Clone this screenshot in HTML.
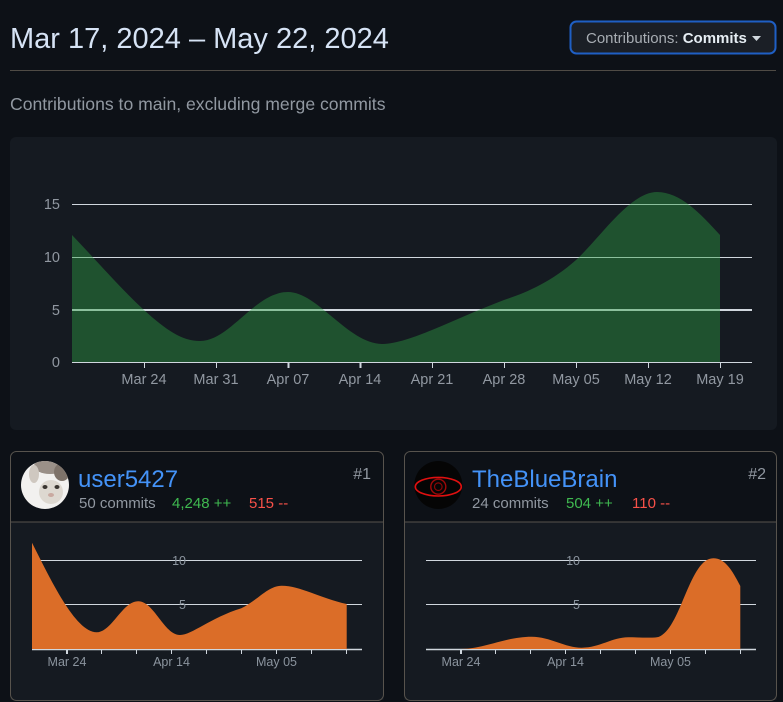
<!DOCTYPE html>
<html><head><meta charset="utf-8"><style>
html,body{margin:0;padding:0;background:#0d1117;}
body{width:783px;height:702px;overflow:hidden;}
svg{display:block;font-family:"Liberation Sans",sans-serif;}
</style></head><body>
<svg width="783" height="702" viewBox="0 0 783 702" xmlns="http://www.w3.org/2000/svg">
<rect x="0" y="0" width="783" height="702" fill="#0d1117"/>
<!-- header -->
<text x="10" y="48" font-size="29" fill="#d6e3f5">Mar 17, 2024 – May 22, 2024</text>
<rect x="570.5" y="21.5" width="205" height="32" rx="6" fill="#1b1f26" stroke="#1f5fc4" stroke-width="2"/>
<text x="586" y="43" font-size="15"><tspan fill="#a8adb3">Contributions: </tspan><tspan fill="#e6edf3" font-weight="bold">Commits</tspan></text>
<polygon points="752,36 761,36 756.5,41" fill="#d0d7de"/>
<line x1="10" y1="70.5" x2="776" y2="70.5" stroke="#4f4b45" stroke-width="1"/>
<text x="10" y="110" font-size="17.6" fill="#9198a1">Contributions to main, excluding merge commits</text>

<!-- main panel -->
<rect x="10" y="137" width="767" height="293" rx="6" fill="#151a21"/>
<g stroke="#d0d7de">
<line x1="72" y1="204.5" x2="752" y2="204.5" stroke-width="1"/>
<line x1="72" y1="257.5" x2="752" y2="257.5" stroke-width="1"/>
<line x1="72" y1="310" x2="752" y2="310" stroke-width="2"/>
<line x1="72" y1="362.5" x2="752" y2="362.5" stroke-width="1"/>
<line x1="144.5" y1="362" x2="144.5" y2="368"/>
<line x1="216.5" y1="362" x2="216.5" y2="368"/>
<line x1="288.5" y1="362" x2="288.5" y2="368" stroke-width="2"/>
<line x1="360.5" y1="362" x2="360.5" y2="368" stroke-width="2"/>
<line x1="432.5" y1="362" x2="432.5" y2="368"/>
<line x1="504.5" y1="362" x2="504.5" y2="368"/>
<line x1="576.5" y1="362" x2="576.5" y2="368"/>
<line x1="648.5" y1="362" x2="648.5" y2="368"/>
<line x1="720.5" y1="362" x2="720.5" y2="368"/>
</g>
<path d="M72,362 L72,235 C96,260 122,290 144,310 C166,330 182,341 200,341 C230,341 255,292 288,292 C318,292 348,344 383,344 C395,344 415,337 432,330 C456,320 480,309 504,300 C525,293 550,283 576,260 C600,238 630,192 657,192 C680,192 700,213 720,235 L720,362 Z" fill="#2ea043" fill-opacity="0.42"/>
<g font-size="14.5" fill="#9198a1" text-anchor="end">
<text x="60" y="209">15</text>
<text x="60" y="262">10</text>
<text x="60" y="315">5</text>
<text x="60" y="367">0</text>
</g>
<g font-size="14.5" fill="#9198a1" text-anchor="middle">
<text x="144" y="384">Mar 24</text>
<text x="216" y="384">Mar 31</text>
<text x="288" y="384">Apr 07</text>
<text x="360" y="384">Apr 14</text>
<text x="432" y="384">Apr 21</text>
<text x="504" y="384">Apr 28</text>
<text x="576" y="384">May 05</text>
<text x="648" y="384">May 12</text>
<text x="720" y="384">May 19</text>
</g>

<!-- card 1 -->
<rect x="10.5" y="522" width="373" height="178" fill="#151a21"/>
<rect x="10.5" y="451.5" width="373" height="249" rx="6" fill="none" stroke="#57534d"/>
<line x1="10.5" y1="522" x2="383.5" y2="522" stroke="#57534d"/>
<defs><clipPath id="av1"><circle cx="45" cy="485" r="24"/></clipPath></defs>
<g clip-path="url(#av1)">
<rect x="20" y="460" width="50" height="50" fill="#f2f1ef"/>
<ellipse cx="50" cy="466" rx="16" ry="8" fill="#9a9088"/>
<ellipse cx="62" cy="472" rx="8" ry="9" fill="#7e736a"/>
<ellipse cx="34" cy="474" rx="5" ry="9" fill="#cfc8c0"/>
<ellipse cx="51" cy="492" rx="12" ry="12" fill="#ddd8d0"/>
<ellipse cx="45" cy="487" rx="2.5" ry="2" fill="#3a3530"/>
<ellipse cx="57" cy="487" rx="2.5" ry="2" fill="#3a3530"/>
<ellipse cx="51" cy="495" rx="3" ry="2" fill="#c9a9a0"/>
</g>
<text x="78" y="487" font-size="24" fill="#4493f8">user5427</text>
<text x="79" y="508" font-size="15" fill="#9198a1">50 commits</text>
<text x="172" y="508" font-size="15" fill="#3fb950">4,248 ++</text>
<text x="249" y="508" font-size="15" fill="#f85149">515 --</text>
<text x="371" y="479" font-size="16" fill="#9198a1" text-anchor="end">#1</text>
<g stroke="#d0d7de">
<line x1="32" y1="560.5" x2="362" y2="560.5"/>
<line x1="32" y1="604.5" x2="362" y2="604.5"/>
<line x1="32" y1="649.5" x2="362" y2="649.5" stroke-width="1.5"/>
<line x1="67" y1="649" x2="67" y2="654" stroke-width="2"/>
<line x1="101.5" y1="649" x2="101.5" y2="654"/>
<line x1="136.5" y1="649" x2="136.5" y2="654"/>
<line x1="171.5" y1="649" x2="171.5" y2="654"/>
<line x1="206.5" y1="649" x2="206.5" y2="654"/>
<line x1="241.5" y1="649" x2="241.5" y2="654"/>
<line x1="276.5" y1="649" x2="276.5" y2="654"/>
<line x1="311.5" y1="649" x2="311.5" y2="654"/>
<line x1="346.5" y1="649" x2="346.5" y2="654"/>
</g>
<path d="M32,649 L32,542.7 C50,578 75,632 96.7,632.3 C112,632 122,601.3 138.3,601.3 C154,601.3 164,635 180,635 C192,635 210,618 241.3,608.3 C258,600 268,585.7 281.7,585.7 C300,585.7 320,598 346.7,604 L346.7,649 Z" fill="#db6d28"/>
<g font-size="12.5" fill="#8b949e" text-anchor="end">
<text x="186" y="565">10</text>
<text x="186" y="609">5</text>
</g>
<g font-size="12.5" fill="#8b949e" text-anchor="middle">
<text x="67" y="666">Mar 24</text>
<text x="171.5" y="666">Apr 14</text>
<text x="276.5" y="666">May 05</text>
</g>

<!-- card 2 -->
<rect x="404.5" y="522" width="372" height="178" fill="#151a21"/>
<rect x="404.5" y="451.5" width="372" height="249" rx="6" fill="none" stroke="#57534d"/>
<line x1="404.5" y1="522" x2="776.5" y2="522" stroke="#57534d"/>
<circle cx="438.3" cy="485" r="24" fill="#050505"/>
<ellipse cx="438.3" cy="486.7" rx="23" ry="9.3" fill="none" stroke="#e01010" stroke-width="1.6"/>
<circle cx="438.3" cy="486.7" r="7.5" fill="none" stroke="#a00808" stroke-width="1.4"/>
<circle cx="438.3" cy="486.7" r="3.8" fill="none" stroke="#8a0606" stroke-width="1.2"/>
<text x="472" y="487" font-size="24" fill="#4493f8">TheBlueBrain</text>
<text x="472" y="508" font-size="15" fill="#9198a1">24 commits</text>
<text x="566" y="508" font-size="15" fill="#3fb950">504 ++</text>
<text x="632" y="508" font-size="15" fill="#f85149">110 --</text>
<text x="766" y="479" font-size="16" fill="#9198a1" text-anchor="end">#2</text>
<g stroke="#d0d7de">
<line x1="426" y1="560.5" x2="756" y2="560.5"/>
<line x1="426" y1="604.5" x2="756" y2="604.5"/>
<line x1="426" y1="649.5" x2="756" y2="649.5" stroke-width="1.5"/>
<line x1="461" y1="649" x2="461" y2="654" stroke-width="2"/>
<line x1="495.5" y1="649" x2="495.5" y2="654"/>
<line x1="530.5" y1="649" x2="530.5" y2="654"/>
<line x1="565.5" y1="649" x2="565.5" y2="654"/>
<line x1="600.5" y1="649" x2="600.5" y2="654"/>
<line x1="635.5" y1="649" x2="635.5" y2="654"/>
<line x1="670.5" y1="649" x2="670.5" y2="654"/>
<line x1="705.5" y1="649" x2="705.5" y2="654"/>
<line x1="740.5" y1="649" x2="740.5" y2="654"/>
</g>
<path d="M426,649 L460,649 C485,649 505,636.7 531.7,636.7 C550,636.7 565,647.7 581.7,647.7 C600,647.7 612,637.3 628.3,637.3 C640,637.3 648,638 655,637.5 C680,637 688,558.3 713.3,558.3 C725,558.3 732,570 740.3,586 L740.3,649 Z" fill="#db6d28"/>
<g font-size="12.5" fill="#8b949e" text-anchor="end">
<text x="580" y="565">10</text>
<text x="580" y="609">5</text>
</g>
<g font-size="12.5" fill="#8b949e" text-anchor="middle">
<text x="461" y="666">Mar 24</text>
<text x="565.5" y="666">Apr 14</text>
<text x="670.5" y="666">May 05</text>
</g>
</svg>
</body></html>
